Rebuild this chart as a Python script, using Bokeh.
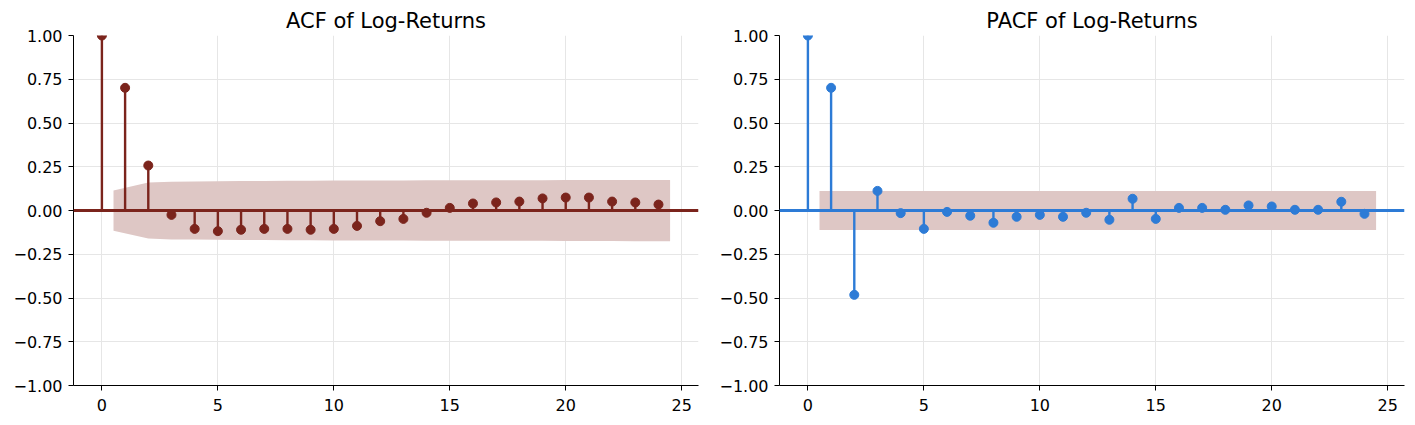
from bokeh.plotting import figure
from bokeh.models import FixedTicker, Span, Range1d
from bokeh.layouts import row
from bokeh.embed import file_html
from bokeh.resources import INLINE

lags = list(range(25))
acf_vals = [1.0, 0.701, 0.257, -0.025, -0.105, -0.118, -0.110, -0.105, -0.105, -0.110,
            -0.105, -0.088, -0.061, -0.048, -0.013, 0.015, 0.040, 0.046, 0.051, 0.069,
            0.074, 0.074, 0.051, 0.046, 0.034]
pacf_vals = [1.0, 0.701, -0.482, 0.112, -0.015, -0.105, -0.008, -0.030, -0.070, -0.036,
             -0.025, -0.036, -0.013, -0.053, 0.067, -0.048, 0.015, 0.015, 0.004, 0.029,
             0.023, 0.004, 0.004, 0.050, -0.019]
# confidence band half-widths for lags 1..24
acf_band = [0.115, 0.160, 0.165, 0.166, 0.167, 0.168, 0.169, 0.170, 0.170, 0.171,
            0.172, 0.172, 0.172, 0.173, 0.173, 0.173, 0.173, 0.173, 0.173, 0.174,
            0.174, 0.174, 0.175, 0.175]
pacf_band = [0.112] * 24
y_ticks = [-1.0, -0.75, -0.5, -0.25, 0.0, 0.25, 0.5, 0.75, 1.0]
x_ticks = [0, 5, 10, 15, 20, 25]
titles = ["ACF of Log-Returns", "PACF of Log-Returns"]

RED = "#7B241C"
BLUE = "#2D7BD6"
BAND = "#DEC7C5"
FONT = "DejaVu Sans"


def make(title, vals, band, color, left, right):
    p = figure(frame_width=625, frame_height=350, output_backend="svg",
               toolbar_location=None, x_range=Range1d(-1.225, 25.725),
               y_range=Range1d(-1.0, 1.0),
               min_border_left=left, min_border_right=right,
               min_border_top=35, min_border_bottom=32)
    p.title.text = title
    p.title.text_font = FONT
    p.title.text_font_size = "21px"
    p.title.text_font_style = "normal"
    p.title.align = "center"
    p.title.standoff = 6
    p.title.text_color = "black"
    p.outline_line_color = None
    p.background_fill_color = "white"
    p.border_fill_color = "white"

    bx = [float(l) for l in lags[1:]]
    bx[0] -= 0.5
    bx[-1] += 0.5
    p.varea(x=bx, y1=[-b for b in band], y2=band, fill_color=BAND, fill_alpha=1.0)
    p.segment(x0=lags, y0=[0] * len(lags), x1=lags, y1=vals, line_color=color, line_width=2.4)
    p.add_layout(Span(location=0, dimension="width", line_color=color, line_width=3))
    p.scatter(x=lags, y=vals, size=9, fill_color=color, line_color=color)

    for ax in (p.xaxis[0], p.yaxis[0]):
        ax.axis_line_color = "black"
        ax.axis_line_width = 1
        ax.major_tick_line_color = "black"
        ax.major_tick_out = 5
        ax.major_tick_in = 0
        ax.minor_tick_line_color = None
        ax.major_label_text_font = FONT
        ax.major_label_text_font_size = "16px"
        ax.major_label_text_color = "black"
    p.xaxis.major_label_standoff = 8
    p.yaxis.major_label_standoff = 6
    p.xaxis.ticker = FixedTicker(ticks=x_ticks)
    p.yaxis.ticker = FixedTicker(ticks=y_ticks)
    p.yaxis.major_label_overrides = {t: ("%.2f" % t).replace("-", "\u2212") for t in y_ticks}
    p.xgrid.ticker = FixedTicker(ticks=x_ticks)
    p.ygrid.ticker = FixedTicker(ticks=y_ticks)
    p.grid.grid_line_color = "#e6e6e6"
    p.grid.grid_line_width = 1
    return p


p1 = make(titles[0], acf_vals, acf_band, RED, 73, 16)
p2 = make(titles[1], pacf_vals, pacf_band, BLUE, 65, 2)
layout = row(p1, p2)
open("out.html", "w").write(file_html(layout, INLINE))
